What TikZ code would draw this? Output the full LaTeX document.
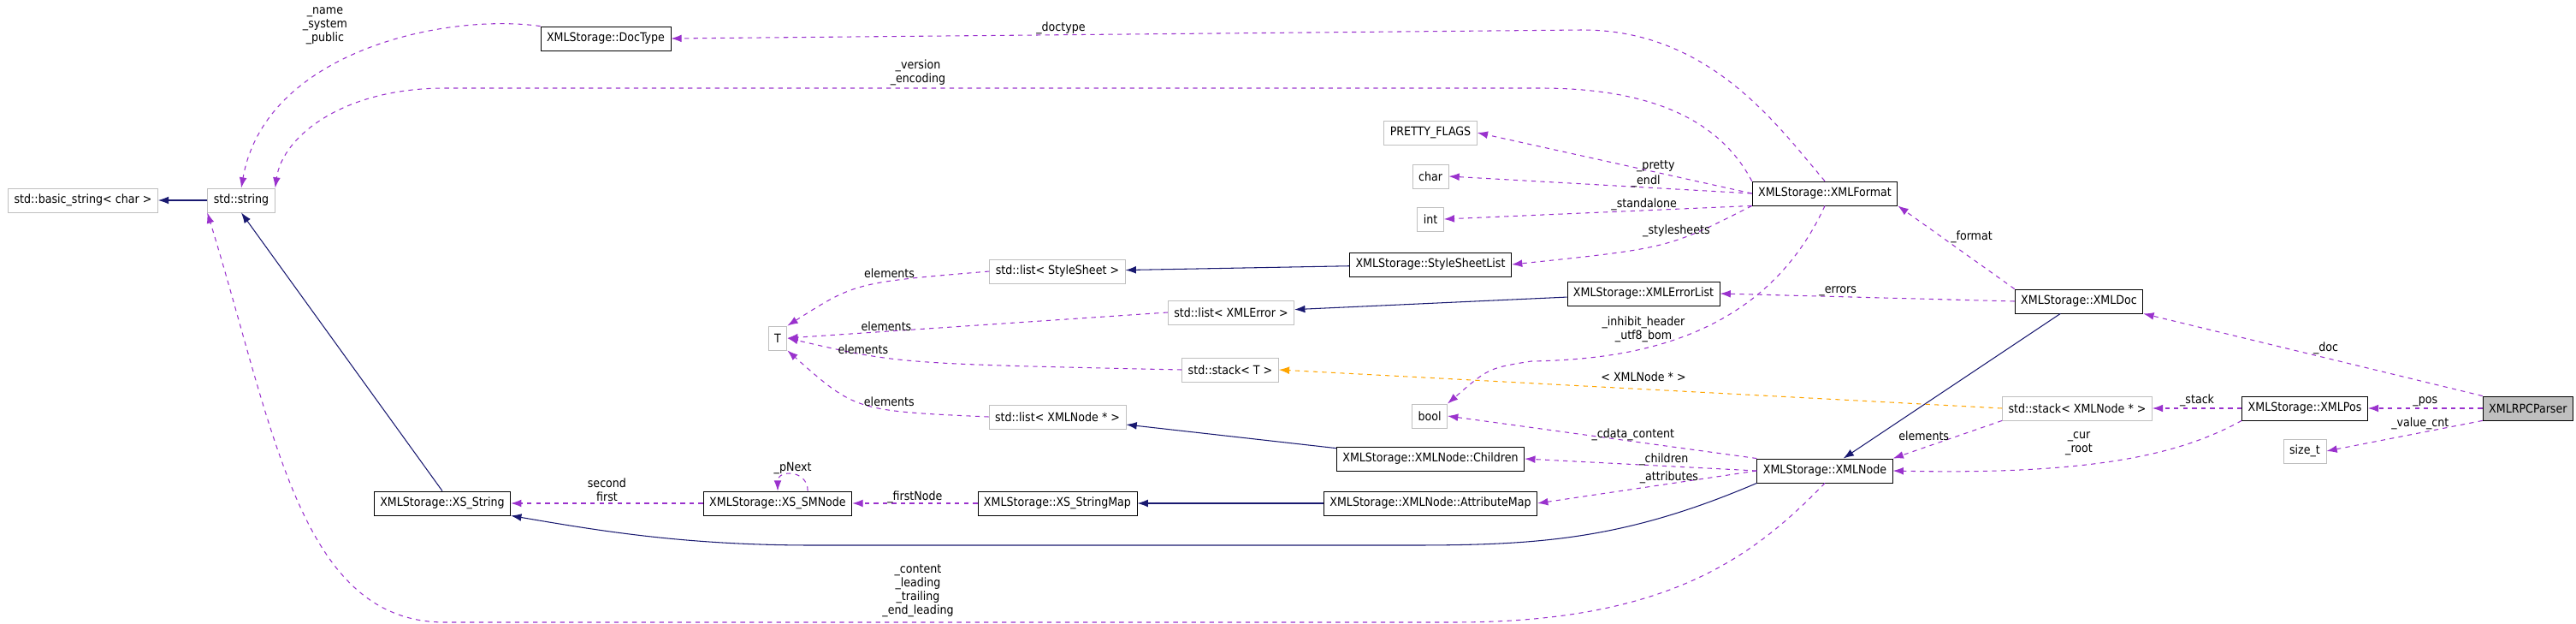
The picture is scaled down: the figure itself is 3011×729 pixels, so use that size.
\documentclass[tikz,border=0pt]{standalone}
\usepackage{fontspec}
\setmainfont{DejaVu Sans Condensed}
\usetikzlibrary{arrows.meta}
\definecolor{memcol}{HTML}{9A32CD}
\definecolor{inhcol}{HTML}{191970}
\definecolor{tplcol}{HTML}{FFA500}
\definecolor{extcol}{HTML}{BFBFBF}
\tikzset{
  cls/.style={
    rectangle,
    draw=black,
    line width=0.5pt,
    minimum height=0.56cm,
    inner xsep=4pt,
    font=\fontsize{8}{9}\selectfont
  },
  ext/.style={cls, draw=extcol},
  lbl/.style={align=center, text=black, font=\fontsize{8}{9}\selectfont, inner sep=0pt}
}
\tikzstyle{mem} = [->, > = {Latex[length=7pt, width=5pt]}, dashed, color=memcol, line width=0.6pt]
\tikzstyle{inh} = [->, > = {Latex[length=7pt, width=5pt]}, color=inhcol, line width=0.6pt]
\tikzstyle{tpl} = [->, > = {Latex[length=7pt, width=5pt]}, dashed, color=tplcol, line width=0.6pt]

\begin{document}
\begin{tikzpicture}[x=0.02cm, y=-0.02cm]
    \useasboundingbox (0,0) rectangle (3011,729);
    \node[ext] (basic) at (97,234) {std::basic\_string< char >};
    \node[ext] (str) at (282,234) {std::string};
    \node[cls] (doctype) at (708,45) {XMLStorage::DocType};
    \node[cls] (xsstr) at (517,588) {XMLStorage::XS\_String};
    \node[cls] (smnode) at (909,588) {XMLStorage::XS\_SMNode};
    \node[ext] (tt) at (909,395) {T};
    \node[ext] (lstyle) at (1236,317) {std::list< StyleSheet >};
    \node[ext] (lerror) at (1439,365) {std::list< XMLError >};
    \node[ext] (stackt) at (1438,432) {std::stack< T >};
    \node[ext] (lnode) at (1236,487) {std::list< XMLNode * >};
    \node[cls] (strmap) at (1236,588) {XMLStorage::XS\_StringMap};
    \node[ext] (pretty) at (1672,155) {PRETTY\_FLAGS};
    \node[ext] (char) at (1672,206) {char};
    \node[ext] (int) at (1672,256) {int};
    \node[cls] (sslist) at (1672,309) {XMLStorage::StyleSheetList};
    \node[ext] (bool) at (1671,486) {bool};
    \node[cls] (children) at (1672,536) {XMLStorage::XMLNode::Children};
    \node[cls] (attrmap) at (1672,588) {XMLStorage::XMLNode::AttributeMap};
    \node[cls] (errlist) at (1921,343) {XMLStorage::XMLErrorList};
    \node[cls] (format) at (2133,226) {XMLStorage::XMLFormat};
    \node[cls] (xmlnode) at (2133,550) {XMLStorage::XMLNode};
    \node[cls] (xmldoc) at (2430,352) {XMLStorage::XMLDoc};
    \node[ext] (stacknode) at (2428,477) {std::stack< XMLNode * >};
    \node[cls] (xmlpos) at (2694,477) {XMLStorage::XMLPos};
    \node[ext] (sizet) at (2694,527) {size\_t};
    \node[cls, fill=extcol, anchor=east] (parser) at (3008,477) {XMLRPCParser};
    % inheritance
    \draw[inh] (str) -- (basic);
    \draw[inh] (xsstr.north) -- (str.south);
    \draw[inh] (sslist) -- (lstyle);
    \draw[inh] (errlist) -- (lerror);
    \draw[inh] (children) -- (lnode);
    \draw[inh] (attrmap) -- (strmap);
    \draw[inh] (xmldoc) -- (xmlnode);
    \draw[inh] (xmlnode.south west) .. controls (1900,630) and (1800,637) .. (1650,637) -- (950,637) .. controls (800,637) and (700,620) .. (xsstr.south east);
    % members
    \draw[mem] (doctype.north west) .. controls (520,15) and (310,60) .. (str.north);
    \node[lbl] (lname) at (380,30) {\_name\\\_system\\\_public};
    \draw[mem] (format.north) .. controls (2080,150) and (2000,35) .. (1850,35) -- (doctype.east);
    \node[lbl] (ldoctype) at (1240,33) {\_doctype};
    \draw[mem] (format.north west) .. controls (2010,140) and (1930,103) .. (1800,103) -- (520,103) .. controls (400,103) and (330,160) .. (str.north east);
    \node[lbl] (lversion) at (1073,85) {\_version\\\_encoding};
    \draw[mem] (format.west) -- (pretty.east) node[lbl, pos=0.35, above] {\_pretty};
    \draw[mem] (format.west) -- (char.east) node[lbl, pos=0.35, above] {\_endl};
    \draw[mem] (format.south west) -- (int.east) node[lbl, pos=0.35, above] {\_standalone};
    \draw[mem] (format.south west) .. controls (1950,290) .. (sslist.east) node[lbl, pos=0.4, above=2pt] {\_stylesheets};
    \draw[mem] (format.south) .. controls (2060,400) and (1900,420) .. (1790,422) .. controls (1740,430) .. (bool.north east);
    \node[lbl] (linhibit) at (1921,385) {\_inhibit\_header\\\_utf8\_bom};
    \draw[mem] (lstyle.west) .. controls (1000,330) .. (tt.north east) node[lbl, pos=0.35, above=2pt] {elements};
    \draw[mem] (lerror.west) -- (tt.east) node[lbl, pos=0.74, above] {elements};
    \draw[mem] (stackt.west) .. controls (1050,425) .. (tt.east) node[lbl, pos=0.72, above] {elements};
    \draw[mem] (lnode.west) .. controls (1000,480) .. (tt.south east) node[lbl, pos=0.35, above=2pt] {elements};
    \draw[tpl] (stacknode.west) -- (stackt.east);
    \node[lbl] (ltpl) at (1921,440) {< XMLNode * >};
    \draw[mem] (xmldoc.west) -- (errlist.east) node[lbl, pos=0.6, above] {\_errors};
    \draw[mem] (xmldoc.north west) -- (format.south east) node[lbl, pos=0.55, above right] {\_format};
    \draw[mem] (parser.north west) -- (xmldoc.south east) node[lbl, pos=0.5, above right] {\_doc};
    \draw[mem] (parser) -- (xmlpos) node[lbl, pos=0.5, above=1pt] {\_pos};
    \draw[mem] (parser.south west) -- (sizet.east) node[lbl, pos=0.4, above=2pt] {\_value\_cnt};
    \draw[mem] (xmlpos) -- (stacknode) node[lbl, pos=0.5, above=1pt] {\_stack};
    \draw[mem] (xmlpos.south west) .. controls (2550,530) and (2450,555) .. (xmlnode.east);
    \node[lbl] (lcur) at (2430,518) {\_cur\\\_root};
    \draw[mem] (stacknode.south west) -- (xmlnode.north east) node[lbl, pos=0.4, left=6pt] {elements};
    \draw[mem] (xmlnode.north west) -- (bool.east) node[lbl, pos=0.4, above] {\_cdata\_content};
    \draw[mem] (xmlnode.west) -- (children.east) node[lbl, pos=0.4, above] {\_children};
    \draw[mem] (xmlnode.west) -- (attrmap.east) node[lbl, pos=0.4, above] {\_attributes};
    \draw[mem] (xmlnode.south) .. controls (2050,650) and (1950,727) .. (1700,727) -- (520,727) .. controls (350,727) and (320,500) .. (str.south west);
    \node[lbl] (lcontent) at (1073,690) {\_content\\\_leading\\\_trailing\\\_end\_leading};
    \draw[mem] (strmap) -- (smnode) node[lbl, pos=0.5, above] {\_firstNode};
    \draw[mem] (smnode) -- (xsstr) node[lbl, pos=0.5, above=1pt] {second\\first};
    \draw[mem] ([xshift=20pt]smnode.north) .. controls +(0,-25) and +(0,-25) .. (smnode.north) node[lbl, pos=0.5, above] {\_pNext};
\end{tikzpicture}
\end{document}
